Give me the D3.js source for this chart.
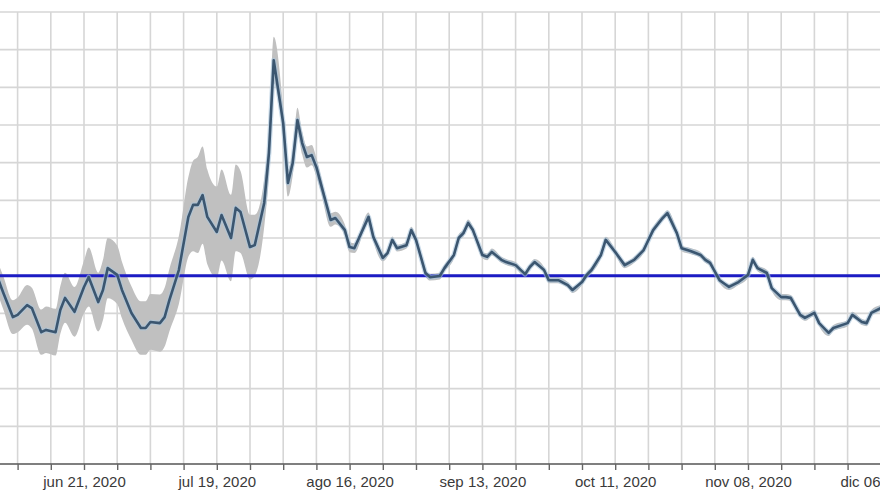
<!DOCTYPE html>
<html>
<head>
<meta charset="utf-8">
<script src="https://cdn.jsdelivr.net/npm/d3@7"></script>
<style>
  html, body { margin: 0; padding: 0; background: #fff; }
  svg { display: block; font-family: "Liberation Sans", Arial, sans-serif; }
</style>
</head>
<body>
<div id="chart"></div>
<script>
// Rt estimate, with its confidence band
const dates = [
  "2020-06-03","2020-06-04","2020-06-06","2020-06-07","2020-06-09","2020-06-10","2020-06-12","2020-06-13",
  "2020-06-15","2020-06-16","2020-06-17","2020-06-19","2020-06-21","2020-06-22","2020-06-24","2020-06-25",
  "2020-06-26","2020-06-28","2020-06-29","2020-07-01","2020-07-03","2020-07-04","2020-07-05","2020-07-07",
  "2020-07-08","2020-07-09","2020-07-11","2020-07-13","2020-07-14","2020-07-15","2020-07-16","2020-07-17",
  "2020-07-19","2020-07-20","2020-07-22","2020-07-23","2020-07-24","2020-07-26","2020-07-27","2020-07-29",
  "2020-07-30","2020-07-31","2020-08-02","2020-08-03","2020-08-04","2020-08-05","2020-08-06","2020-08-07",
  "2020-08-08","2020-08-09","2020-08-10","2020-08-12","2020-08-13","2020-08-15","2020-08-16","2020-08-17",
  "2020-08-20","2020-08-21","2020-08-23","2020-08-24","2020-08-25","2020-08-26","2020-08-28","2020-08-29",
  "2020-08-30","2020-09-01","2020-09-02","2020-09-04","2020-09-05","2020-09-07","2020-09-08","2020-09-09",
  "2020-09-10","2020-09-11","2020-09-13","2020-09-14","2020-09-15","2020-09-17","2020-09-18","2020-09-20",
  "2020-09-22","2020-09-23","2020-09-24","2020-09-26","2020-09-27","2020-09-29","2020-10-01","2020-10-02",
  "2020-10-04","2020-10-05","2020-10-06","2020-10-08","2020-10-09","2020-10-11","2020-10-13","2020-10-15",
  "2020-10-17","2020-10-19","2020-10-21","2020-10-22","2020-10-24","2020-10-25","2020-10-27","2020-10-29",
  "2020-10-30","2020-10-31","2020-11-02","2020-11-04","2020-11-06","2020-11-08","2020-11-09","2020-11-10",
  "2020-11-12","2020-11-13","2020-11-15","2020-11-16","2020-11-17","2020-11-19","2020-11-20","2020-11-22",
  "2020-11-23","2020-11-25","2020-11-26","2020-11-29","2020-11-30","2020-12-02","2020-12-03","2020-12-04",
  "2020-12-06"
];
const rt = [
  0.988,0.954,0.890,0.896,0.922,0.914,0.850,0.856,
  0.850,0.909,0.941,0.904,0.970,0.996,0.930,0.962,
  1.020,1.002,0.962,0.901,0.861,0.861,0.877,0.874,
  0.890,0.935,1.015,1.156,1.188,1.188,1.214,1.156,
  1.116,1.161,1.100,1.180,1.169,1.076,1.081,1.193,
  1.326,1.572,1.405,1.246,1.299,1.413,1.352,1.315,
  1.320,1.288,1.241,1.148,1.153,1.121,1.076,1.073,
  1.156,1.103,1.047,1.060,1.095,1.073,1.081,1.121,
  1.095,1.007,0.996,0.999,1.020,1.055,1.100,1.113,
  1.140,1.121,1.055,1.050,1.063,1.042,1.036,1.028,
  1.004,1.023,1.036,1.015,0.988,0.988,0.975,0.962,
  0.983,1.002,1.015,1.055,1.095,1.063,1.028,1.042,
  1.068,1.121,1.153,1.166,1.113,1.073,1.065,1.055,
  1.042,1.034,0.988,0.970,0.983,1.002,1.042,1.020,
  1.007,0.967,0.943,0.943,0.941,0.896,0.888,0.901,
  0.874,0.848,0.861,0.874,0.896,0.877,0.874,0.901,
  0.914
];
const lower = [
  0.945,0.910,0.845,0.850,0.870,0.860,0.790,0.795,
  0.788,0.845,0.875,0.838,0.900,0.918,0.852,0.882,
  0.940,0.925,0.887,0.830,0.790,0.790,0.803,0.798,
  0.812,0.852,0.925,1.050,1.065,1.060,1.085,1.030,
  0.995,1.040,0.985,1.065,1.060,0.990,1.000,1.130,
  1.270,1.510,1.365,1.210,1.265,1.380,1.322,1.287,
  1.293,1.263,1.220,1.130,1.136,1.106,1.062,1.060,
  1.144,1.092,1.038,1.051,1.086,1.064,1.072,1.112,
  1.086,0.998,0.987,0.990,1.011,1.046,1.091,1.104,
  1.131,1.112,1.046,1.041,1.054,1.034,1.028,1.020,
  0.996,1.015,1.028,1.007,0.980,0.980,0.967,0.954,
  0.975,0.994,1.007,1.047,1.087,1.055,1.020,1.034,
  1.060,1.113,1.145,1.158,1.105,1.065,1.057,1.047,
  1.034,1.026,0.980,0.962,0.975,0.994,1.034,1.012,
  0.999,0.959,0.935,0.935,0.933,0.888,0.880,0.893,
  0.866,0.840,0.853,0.866,0.888,0.869,0.866,0.893,
  0.906
];
const upper = [
  1.030,0.998,0.935,0.942,0.975,0.968,0.910,0.918,
  0.912,0.972,1.008,0.970,1.040,1.075,1.008,1.042,
  1.100,1.080,1.037,0.972,0.932,0.932,0.951,0.950,
  0.968,1.018,1.105,1.262,1.305,1.316,1.343,1.282,
  1.237,1.282,1.215,1.295,1.278,1.162,1.162,1.256,
  1.382,1.634,1.445,1.282,1.333,1.446,1.382,1.343,
  1.347,1.313,1.262,1.166,1.170,1.136,1.090,1.086,
  1.168,1.114,1.056,1.069,1.104,1.082,1.090,1.130,
  1.104,1.016,1.005,1.008,1.029,1.064,1.109,1.122,
  1.149,1.130,1.064,1.059,1.072,1.050,1.044,1.036,
  1.012,1.031,1.044,1.023,0.996,0.996,0.983,0.970,
  0.991,1.010,1.023,1.063,1.103,1.071,1.036,1.050,
  1.076,1.129,1.161,1.174,1.121,1.081,1.073,1.063,
  1.050,1.042,0.996,0.978,0.991,1.010,1.050,1.028,
  1.015,0.975,0.951,0.951,0.949,0.904,0.896,0.909,
  0.882,0.856,0.869,0.882,0.904,0.885,0.882,0.909,
  0.922
];
const threshold = 1;
const yGrid = [0.6,0.7,0.8,0.9,1.0,1.1,1.2,1.3,1.4,1.5,1.6,1.7];

const width = 880;
const height = 495;

const es = d3.timeFormatLocale({
  dateTime: "%A, %e de %B de %Y, %X", date: "%d/%m/%Y", time: "%H:%M:%S",
  periods: ["AM", "PM"],
  days: ["domingo","lunes","martes","miércoles","jueves","viernes","sábado"],
  shortDays: ["dom","lun","mar","mié","jue","vie","sáb"],
  months: ["enero","febrero","marzo","abril","mayo","junio","julio","agosto","septiembre","octubre","noviembre","diciembre"],
  shortMonths: ["ene","feb","mar","abr","may","jun","jul","ago","sep","oct","nov","dic"]
});
const fmt = es.utcFormat("%b %d, %Y");
const parse = d3.utcParse("%Y-%m-%d");

const data = dates.map((d, i) => ({ date: parse(d), rt: rt[i], lo: lower[i], hi: upper[i] }));

const x = d3.scaleUtc()
    .domain([parse("2020-06-21"), parse("2020-11-08")])
    .range([84, 748]);
const y = d3.scaleLinear()
    .domain([0.5, 1.7])
    .range([464, 12]);

const svg = d3.select("#chart")
  .append("svg")
    .attr("width", width)
    .attr("height", height)
    .attr("viewBox", [0, 0, width, height]);

// weekly ticks (Sundays), a label every fourth one starting jun 21
const weeks = d3.utcSunday.range(parse("2020-06-07"), parse("2020-12-13"));
const labelled = new Set(weeks.filter((d, i) => i % 4 === 2).map(d => +d));

// grid
svg.append("g")
    .attr("stroke", "#d6d6d6")
    .attr("stroke-width", 1.6)
  .selectAll("line")
  .data(weeks)
  .join("line")
    .attr("x1", d => x(d)).attr("x2", d => x(d))
    .attr("y1", y(1.7)).attr("y2", y(0.5));

svg.append("g")
    .attr("stroke", "#d6d6d6")
    .attr("stroke-width", 1.6)
  .selectAll("line")
  .data(yGrid)
  .join("line")
    .attr("x1", 0).attr("x2", width)
    .attr("y1", d => y(d)).attr("y2", d => y(d));

// confidence band
svg.append("path")
    .datum(data)
    .attr("fill", "#c0c0c0")
    .attr("d", d3.area()
      .curve(d3.curveMonotoneX)
      .x(d => x(d.date))
      .y0(d => y(d.lo))
      .y1(d => y(d.hi)));

// threshold Rt = 1
svg.append("line")
    .attr("x1", 0).attr("x2", width)
    .attr("y1", y(threshold)).attr("y2", y(threshold))
    .attr("stroke", "#1c1cc4")
    .attr("stroke-width", 3);

// halo + line
svg.append("path")
    .datum(data)
    .attr("fill", "none")
    .attr("stroke", "#a9c4dc")
    .attr("stroke-opacity", 0.6)
    .attr("stroke-width", 5)
    .attr("stroke-linejoin", "round")
    .attr("d", d3.line().x(d => x(d.date)).y(d => y(d.rt)));

svg.append("path")
    .datum(data)
    .attr("fill", "none")
    .attr("stroke", "#3b5670")
    .attr("stroke-width", 2.6)
    .attr("stroke-linejoin", "round")
    .attr("d", d3.line().x(d => x(d.date)).y(d => y(d.rt)));

// x axis
const axis = svg.append("g")
    .attr("transform", `translate(0,${y(0.5)})`)
    .call(d3.axisBottom(x)
      .tickValues(weeks)
      .tickSize(6)
      .tickPadding(6)
      .tickFormat(d => labelled.has(+d) ? fmt(d) : ""));

axis.select(".domain")
    .attr("stroke", "#555")
    .attr("stroke-width", 1.6)
    .attr("d", `M0,0H${width}`);
axis.selectAll(".tick line")
    .attr("stroke", "#666")
    .attr("stroke-width", 1.4);
axis.selectAll(".tick text")
    .attr("fill", "#3a3a3a")
    .attr("font-size", 15)
    .attr("font-family", "Liberation Sans, Arial, sans-serif");
</script>
</body>
</html>
